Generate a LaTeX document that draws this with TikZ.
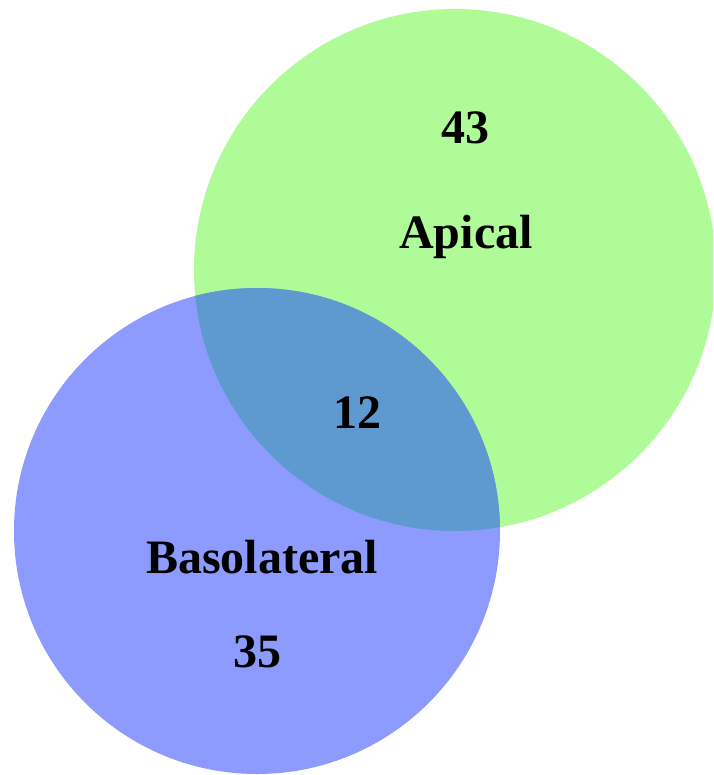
\documentclass[tikz,border=0pt]{standalone}
\usepackage{fontspec}
\setmainfont{Liberation Serif}
\definecolor{apicalgreen}{HTML}{AEFB98}
\definecolor{basalblue}{HTML}{8C9BFD}
\definecolor{overlapblue}{HTML}{5E9ACF}
\begin{document}
\begin{tikzpicture}[x=1pt, y=-1pt, font=\fontsize{48}{56}\bfseries\selectfont]
	\def\rA{261}	\def\rB{243}
	\useasboundingbox (0,0) rectangle (713,775);
	\clip (0,0) rectangle (713,775);
	\coordinate (capi) at (455,270);
	\coordinate (cbas) at (257,531);
	\fill[apicalgreen] (capi) circle (\rA);
	\fill[basalblue] (cbas) circle (\rB);
	\begin{scope}
		\clip (capi) circle (\rA);
		\fill[overlapblue] (cbas) circle (\rB);
	\end{scope}
	\node (nA) at (465,128) {43};
	\node (lA) at (466,237) {Apical};
	\node (nAB) at (357,413) {12};
	\node (lB) at (262,557) {Basolateral};
	\node (nB) at (257,652) {35};
\end{tikzpicture}
\end{document}
